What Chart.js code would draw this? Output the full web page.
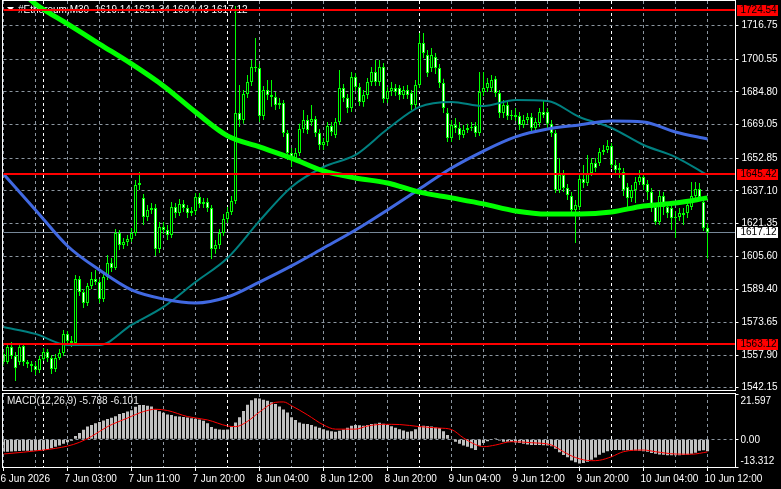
<!DOCTYPE html>
<html>
<head>
<meta charset="utf-8">
<script src="https://cdn.jsdelivr.net/npm/chart.js@4.4.1/dist/chart.umd.min.js"></script>
<style>
  html, body { margin: 0; padding: 0; background: #000; }
  #wrap { position: relative; width: 781px; height: 489px; background: #000; overflow: hidden; }
  #priceChart { position: absolute; left: 0; top: 0; }
  #macdChart { position: absolute; left: 0; top: 392px; }
</style>
</head>
<body>
<div id="wrap">
  <canvas id="priceChart" width="781" height="392"></canvas>
  <canvas id="macdChart" width="781" height="97"></canvas>
</div>
<script>
// #Ethereum M30 candles, bar 0 = 6 Jun 2026 19:00
const opens = [
  1558.4, 1554.6, 1561.8, 1557.4, 1554.6, 1562.3, 1554.6, 1553.6, 1552.6, 1550.7,
  1556.0, 1559.4, 1556.5, 1551.2, 1556.5, 1558.9, 1568.1, 1564.7, 1563.7, 1594.6,
  1588.3, 1583.0, 1591.2, 1594.6, 1593.1, 1584.9, 1595.5, 1602.3, 1599.9, 1616.8,
  1611.0, 1612.4, 1613.9, 1616.8, 1639.9, 1633.7, 1624.5, 1627.9, 1628.8, 1609.1,
  1619.7, 1618.2, 1615.8, 1629.3, 1626.4, 1630.8, 1628.8, 1626.4, 1627.4, 1634.1,
  1630.8, 1631.7, 1628.8, 1609.1, 1611.0, 1616.8, 1623.5, 1626.9, 1632.2, 1674.7,
  1671.3, 1683.8, 1689.6, 1696.8, 1696.4, 1673.2, 1685.7, 1683.3, 1682.4, 1678.5,
  1679.5, 1665.0, 1655.4, 1652.9, 1655.4, 1666.9, 1671.3, 1670.3, 1671.8, 1665.0,
  1659.2, 1660.7, 1668.4, 1664.0, 1670.3, 1686.7, 1681.9, 1677.1, 1692.0, 1687.2,
  1680.0, 1683.3, 1689.6, 1694.4, 1689.6, 1696.8, 1681.4, 1685.3, 1686.7, 1686.7,
  1683.3, 1685.7, 1684.3, 1678.5, 1688.2, 1708.4, 1702.6, 1696.4, 1701.7, 1696.4,
  1689.1, 1674.7, 1662.6, 1668.9, 1667.4, 1664.0, 1666.4, 1667.4, 1668.4, 1665.0,
  1684.8, 1686.7, 1686.7, 1691.1, 1684.3, 1674.7, 1678.5, 1673.2, 1673.7, 1673.2,
  1668.9, 1671.3, 1672.7, 1667.4, 1669.8, 1675.1, 1675.1, 1669.4, 1665.0, 1637.5,
  1644.7, 1638.5, 1634.6, 1627.9, 1629.3, 1642.8, 1640.9, 1645.7, 1650.5, 1650.5,
  1655.8, 1656.8, 1658.7, 1649.6, 1647.2, 1646.2, 1639.0, 1633.7, 1637.5, 1641.4,
  1643.8, 1640.4, 1636.5, 1629.3, 1622.1, 1634.6, 1629.3, 1628.8, 1624.0, 1624.5,
  1626.4, 1626.4, 1629.3, 1634.6, 1638.0, 1631.7, 1619.14
];
const highs = [
  1560.3, 1563.7, 1564.2, 1559.4, 1563.2, 1563.7, 1555.5, 1555.0, 1554.6, 1557.4,
  1561.3, 1560.8, 1557.9, 1558.4, 1560.8, 1570.0, 1569.5, 1567.1, 1596.5, 1596.0,
  1589.8, 1592.6, 1598.0, 1598.9, 1594.6, 1597.5, 1606.2, 1604.7, 1618.7, 1618.2,
  1614.4, 1615.8, 1619.2, 1642.3, 1646.2, 1635.6, 1630.3, 1631.2, 1630.8, 1622.1,
  1622.1, 1620.6, 1631.7, 1631.2, 1633.2, 1632.7, 1630.3, 1629.3, 1636.1, 1636.1,
  1633.7, 1633.7, 1630.3, 1613.4, 1618.7, 1625.9, 1629.3, 1634.6, 1726.3, 1688.2,
  1685.7, 1693.0, 1700.2, 1710.8, 1698.3, 1687.7, 1690.6, 1690.6, 1684.8, 1681.9,
  1680.9, 1666.4, 1657.8, 1657.8, 1669.4, 1676.1, 1673.7, 1678.5, 1673.2, 1666.9,
  1662.6, 1670.3, 1670.3, 1672.2, 1695.4, 1688.6, 1683.8, 1694.4, 1693.9, 1689.1,
  1685.7, 1691.5, 1696.8, 1700.2, 1700.2, 1698.8, 1687.2, 1689.6, 1688.6, 1688.2,
  1687.7, 1688.2, 1685.7, 1690.6, 1713.2, 1713.2, 1705.0, 1706.0, 1703.6, 1698.3,
  1691.1, 1677.1, 1671.3, 1672.2, 1670.3, 1668.9, 1669.4, 1670.3, 1670.3, 1694.4,
  1694.4, 1691.5, 1693.0, 1692.5, 1685.7, 1680.9, 1680.0, 1676.1, 1677.1, 1675.1,
  1673.7, 1674.7, 1674.7, 1672.2, 1677.1, 1680.9, 1677.1, 1671.3, 1666.4, 1652.9,
  1647.2, 1640.4, 1636.5, 1632.7, 1644.7, 1649.6, 1654.4, 1652.9, 1652.9, 1657.8,
  1659.2, 1661.6, 1660.2, 1652.0, 1650.5, 1648.1, 1640.9, 1639.9, 1643.8, 1647.2,
  1645.7, 1642.3, 1638.5, 1631.2, 1637.0, 1636.5, 1631.2, 1630.8, 1627.4, 1628.8,
  1628.8, 1632.7, 1641.4, 1641.4, 1640.9, 1633.7, 1621.34
];
const lows = [
  1552.6, 1553.6, 1556.0, 1545.4, 1553.1, 1552.6, 1551.6, 1549.7, 1548.3, 1549.2,
  1555.0, 1554.6, 1548.8, 1549.7, 1555.5, 1557.4, 1563.2, 1561.8, 1562.8, 1586.4,
  1580.6, 1581.6, 1589.8, 1591.7, 1583.0, 1583.5, 1594.1, 1598.0, 1598.9, 1608.6,
  1609.1, 1610.5, 1612.4, 1615.3, 1637.5, 1620.6, 1622.6, 1625.9, 1605.7, 1607.1,
  1616.3, 1613.4, 1614.4, 1624.0, 1625.0, 1626.9, 1624.0, 1625.0, 1625.4, 1628.8,
  1628.8, 1626.9, 1604.2, 1606.7, 1609.1, 1615.3, 1621.6, 1625.4, 1630.8, 1667.9,
  1669.4, 1681.9, 1687.7, 1694.4, 1670.3, 1671.3, 1680.9, 1677.6, 1676.1, 1676.6,
  1663.1, 1652.0, 1648.6, 1651.0, 1653.9, 1665.0, 1664.5, 1668.4, 1663.1, 1656.8,
  1656.8, 1658.7, 1663.6, 1662.6, 1668.9, 1680.0, 1674.7, 1675.1, 1685.3, 1678.0,
  1677.6, 1681.4, 1687.7, 1687.7, 1687.7, 1679.5, 1679.5, 1682.9, 1682.9, 1680.9,
  1681.4, 1681.4, 1676.1, 1677.1, 1686.7, 1701.2, 1692.0, 1694.4, 1693.5, 1686.7,
  1674.7, 1660.7, 1660.7, 1665.0, 1661.6, 1662.6, 1665.0, 1666.0, 1663.1, 1663.6,
  1682.9, 1684.8, 1684.8, 1682.4, 1672.2, 1672.2, 1671.3, 1671.3, 1670.8, 1666.4,
  1667.4, 1669.4, 1665.5, 1666.0, 1667.9, 1672.2, 1667.4, 1663.1, 1636.1, 1636.1,
  1636.5, 1632.7, 1625.4, 1611.9, 1627.9, 1638.5, 1639.4, 1644.3, 1646.2, 1649.1,
  1654.4, 1655.4, 1648.1, 1644.7, 1643.3, 1634.6, 1627.9, 1631.7, 1631.2, 1639.9,
  1637.5, 1632.7, 1626.9, 1620.6, 1620.6, 1625.4, 1624.0, 1618.2, 1614.4, 1622.6,
  1620.6, 1624.0, 1627.9, 1632.7, 1632.7, 1617.7, 1604.43
];
const closes = [
  1554.6, 1561.8, 1557.4, 1551.6, 1561.8, 1554.6, 1553.6, 1552.6, 1550.7, 1556.0,
  1559.4, 1556.5, 1551.2, 1556.5, 1558.9, 1568.1, 1564.7, 1563.7, 1594.6, 1588.3,
  1583.0, 1591.2, 1594.6, 1593.1, 1584.9, 1595.5, 1602.3, 1599.9, 1616.8, 1611.0,
  1612.4, 1613.9, 1616.8, 1639.9, 1640.9, 1624.5, 1627.9, 1628.8, 1609.1, 1619.7,
  1618.2, 1615.8, 1629.3, 1626.4, 1630.8, 1628.8, 1626.4, 1627.4, 1634.1, 1630.8,
  1631.7, 1628.8, 1609.1, 1611.0, 1616.8, 1623.5, 1626.9, 1632.2, 1674.7, 1671.3,
  1683.8, 1689.6, 1696.8, 1696.4, 1673.2, 1685.7, 1683.3, 1682.4, 1678.5, 1679.5,
  1665.0, 1655.4, 1652.9, 1655.4, 1666.9, 1671.3, 1666.4, 1671.8, 1665.0, 1659.2,
  1660.7, 1668.4, 1665.5, 1670.3, 1686.7, 1681.9, 1677.1, 1692.0, 1687.2, 1680.0,
  1683.3, 1689.6, 1694.4, 1689.6, 1696.8, 1681.4, 1685.3, 1686.7, 1684.8, 1683.3,
  1685.7, 1683.3, 1678.5, 1688.2, 1708.4, 1703.6, 1693.9, 1702.6, 1696.4, 1689.1,
  1677.1, 1662.6, 1668.9, 1667.4, 1664.0, 1666.4, 1667.4, 1667.9, 1665.0, 1684.8,
  1686.7, 1689.1, 1690.6, 1684.3, 1674.7, 1678.5, 1673.2, 1673.7, 1672.7, 1668.9,
  1671.3, 1672.7, 1667.4, 1670.3, 1675.1, 1673.7, 1669.4, 1665.0, 1637.5, 1644.7,
  1638.5, 1635.1, 1627.9, 1630.3, 1642.8, 1640.9, 1645.7, 1650.5, 1648.1, 1655.8,
  1656.8, 1658.7, 1649.6, 1647.2, 1648.1, 1637.5, 1633.7, 1637.5, 1641.4, 1643.8,
  1639.9, 1636.5, 1628.8, 1622.1, 1634.6, 1629.3, 1626.4, 1624.0, 1624.5, 1626.4,
  1625.4, 1630.3, 1634.6, 1638.0, 1634.1, 1619.2, 1617.12
];

// moving averages, read every 8 bars
const maSlowBars = [6, 8, 16, 24, 32, 40, 48, 56, 64, 72, 80, 88, 96, 104, 112, 120, 128, 136, 144, 152, 160, 168, 176];
const maSlow = [1730.6, 1727.2, 1717.6, 1707.9, 1698.3, 1687.7, 1675.1, 1663.6, 1658.3, 1652.9, 1646.7, 1643.3,
  1640.9, 1636.5, 1633.7, 1630.8, 1627.4, 1625.9, 1625.9, 1626.9, 1629.8, 1631.2, 1633.7];
const maBars = [0, 8, 16, 24, 32, 40, 48, 56, 64, 72, 80, 88, 96, 104, 112, 120, 128, 136, 144, 152, 160, 168, 176];
const maMid = [1645.2, 1627.9, 1610.5, 1598.9, 1589.3, 1584.9, 1583.0, 1585.9, 1593.1, 1600.9, 1609.5, 1618.2,
  1627.9, 1638.0, 1648.1, 1656.3, 1663.1, 1666.9, 1668.9, 1670.8, 1670.3, 1665.5, 1662.1];
const maFast = [1571.4, 1568.1, 1562.8, 1562.8, 1572.4, 1581.1, 1593.1, 1604.7, 1622.6, 1639.0, 1648.6, 1654.4,
  1666.9, 1677.6, 1680.0, 1678.0, 1680.9, 1680.4, 1672.7, 1667.4, 1659.2, 1653.4, 1644.7];

// MACD(12,26,9)
const macdHist = [
  -6.0, -6.0, -5.9, -5.8, -5.7, -5.6, -5.5, -5.5, -5.4, -5.3,
  -5.2, -4.8, -4.3, -3.6, -3.0, -2.2, -1.5, -0.8, 1.5, 3.0,
  4.5, 6.0, 6.8, 7.6, 8.2, 8.9, 9.6, 10.2, 11.0, 12.0,
  12.5, 13.2, 13.8, 15.5, 16.3, 16.3, 16.0, 15.6, 14.2, 13.4,
  12.6, 11.8, 11.5, 11.0, 10.8, 10.6, 10.3, 10.0, 9.8, 9.4,
  8.8, 7.6, 5.8, 5.0, 4.6, 4.5, 4.6, 6.0, 8.0, 10.5,
  13.5, 16.4, 18.6, 19.6, 19.4, 18.9, 18.4, 17.6, 16.8, 15.6,
  14.2, 12.8, 10.5, 9.2, 8.0, 7.4, 7.2, 6.8, 6.0, 5.4,
  4.8, 4.2, 3.8, 3.6, 4.0, 4.6, 5.4, 6.4, 6.8, 6.6,
  6.4, 6.8, 7.2, 7.4, 7.8, 7.4, 6.8, 6.2, 5.4, 4.8,
  4.2, 3.6, 3.8, 4.8, 6.0, 6.4, 6.3, 6.0, 5.6, 5.3,
  3.8, 2.0, -0.2, -1.2, -2.2, -3.0, -3.6, -4.4, -5.2, -3.2,
  -1.8, -1.0, -0.2, 0.4, -0.6, -1.2, -1.2, -1.4, -1.6, -1.8,
  -2.2, -2.6, -2.8, -2.8, -2.8, -2.9, -3.0, -3.4, -4.6, -6.2,
  -7.6, -8.6, -10.2, -11.0, -11.6, -11.4, -10.8, -9.8, -8.8, -7.4,
  -6.5, -5.8, -5.2, -5.2, -5.2, -5.3, -5.3, -5.4, -5.4, -5.6,
  -5.8, -6.0, -6.6, -7.0, -7.3, -7.5, -7.7, -7.7, -7.7, -7.7,
  -7.6, -7.4, -7.0, -6.5, -5.6, -5.3, -5.788
];
const signalBars = [0, 10, 16, 19, 22, 26, 31, 35, 38, 41, 46, 51, 56, 58, 61, 64, 68, 70, 72, 76, 80, 83, 88,
  91, 95, 99, 104, 109, 112, 115, 118, 120, 123, 127, 132, 137, 140, 143, 147, 149, 152, 155, 160, 163, 168, 172, 176];
const signalVals = [-7.1, -5.2, -3.3, -1.5, 1.3, 6.0, 10.1, 13.2, 14.3, 13.7, 10.8, 9.2, 6.3, 6.0, 8.5, 13.0, 17.6, 17.8, 16.0,
  11.6, 6.8, 4.8, 4.8, 6.3, 7.1, 7.0, 6.0, 5.3, 4.6, 0.6, -2.6, -3.6, -2.8, -1.2, -1.7, -2.8, -6.0, -8.8, -10.3,
  -10.1, -8.4, -6.0, -5.2, -6.0, -7.1, -7.2, -6.101];

// axes and labels
const priceTicks = [1542.15, 1557.90, 1573.65, 1589.40, 1605.60, 1621.35, 1637.10, 1652.85, 1669.05, 1684.80, 1700.55, 1716.75];
const levels = [1724.54, 1645.42, 1563.12];
const bidPrice = 1617.12;
const macdTicks = [-13.312, 0, 21.597];
const timeLabels = ['6 Jun 2026', '7 Jun 03:00', '7 Jun 11:00', '7 Jun 20:00', '8 Jun 04:00', '8 Jun 12:00',
  '8 Jun 20:00', '9 Jun 04:00', '9 Jun 12:00', '9 Jun 20:00', '10 Jun 04:00', '10 Jun 12:00'];
const daySeparators = [10, 56, 104, 152];
const titleText = '#Ethereum,M30  1619.14 1621.34 1604.43 1617.12';
const macdTitle = 'MACD(12,26,9) -5.788 -6.101';

const FONT = '"Liberation Sans", Arial, sans-serif';
const GRID = '#8c96a0';
const LIME = '#00ff00';
const LAST_SLOT = 183;

function buildTimeTicks(scale) {
  const t = [];
  for (let v = 0; v <= 176; v += 8) t.push(v);
  daySeparators.forEach(v => { if (!t.includes(v)) t.push(v); });
  t.sort((a, b) => a - b);
  scale.ticks = t.map(v => ({ value: v }));
}
function gridColor(c) {
  if (!c.tick) return GRID;
  return daySeparators.includes(c.tick.value) ? '#ffffff' : GRID;
}
function drawFrame(chart) {
  const { ctx, chartArea: a } = chart;
  ctx.save();
  ctx.strokeStyle = '#ffffff';
  ctx.lineWidth = 1;
  ctx.strokeRect(a.left - 1, a.top - 0.5, a.right - a.left + 1, a.bottom - a.top + 1);
  ctx.restore();
}

const bars = opens.map((_, i) => i);

const priceOverlay = {
  id: 'priceOverlay',
  beforeDatasetsDraw(chart) {
    const { ctx, chartArea: a, scales: { y } } = chart;
    ctx.save();
    // bid line
    const yb = Math.round(y.getPixelForValue(bidPrice)) + 0.5;
    ctx.strokeStyle = '#778899';
    ctx.lineWidth = 1;
    ctx.beginPath();
    ctx.moveTo(a.left, yb);
    ctx.lineTo(a.right, yb);
    ctx.stroke();
    // title
    ctx.fillStyle = '#ffffff';
    ctx.beginPath();
    ctx.moveTo(7, 7); ctx.lineTo(14, 7); ctx.lineTo(10.5, 11);
    ctx.closePath();
    ctx.fill();
    ctx.font = '10px ' + FONT;
    ctx.textBaseline = 'middle';
    ctx.fillText(titleText, 18, 10);
    ctx.restore();
  },
  afterDatasetsDraw(chart) {
    const { ctx, chartArea: a, scales: { y } } = chart;
    ctx.save();
    ctx.strokeStyle = '#ff0000';
    ctx.lineWidth = 2;
    levels.forEach(v => {
      const py = Math.round(y.getPixelForValue(v));
      ctx.beginPath();
      ctx.moveTo(a.left, py);
      ctx.lineTo(a.right, py);
      ctx.stroke();
    });
    ctx.restore();
  },
  afterDraw(chart) {
    const { ctx, chartArea: a, scales: { y } } = chart;
    drawFrame(chart);
    ctx.save();
    ctx.font = '10px ' + FONT;
    ctx.textBaseline = 'middle';
    const box = (v, bg) => {
      const py = Math.max(Math.round(y.getPixelForValue(v)), 7);
      ctx.fillStyle = bg;
      ctx.fillRect(a.right + 1.5, py - 5, 41, 11);
      ctx.fillStyle = '#000000';
      ctx.fillText(v.toFixed(2), a.right + 5, py + 0.5);
    };
    levels.forEach(v => box(v, '#ff0000'));
    box(bidPrice, '#ffffff');
    ctx.restore();
  }
};

new Chart(document.getElementById('priceChart'), {
  type: 'bar',
  data: {
    datasets: [
      {
        type: 'line', label: 'MA slow', order: 0,
        data: maSlowBars.map((b, k) => ({ x: b, y: maSlow[k] })),
        borderColor: LIME, borderWidth: 5, pointRadius: 0, cubicInterpolationMode: 'monotone'
      },
      {
        type: 'line', label: 'MA mid', order: 1,
        data: maBars.map((b, k) => ({ x: b, y: maMid[k] })),
        borderColor: '#4169e1', borderWidth: 3, pointRadius: 0, cubicInterpolationMode: 'monotone'
      },
      {
        type: 'line', label: 'MA fast', order: 2,
        data: maBars.map((b, k) => ({ x: b, y: maFast[k] })),
        borderColor: '#008080', borderWidth: 2, pointRadius: 0, cubicInterpolationMode: 'monotone'
      },
      {
        label: 'body', order: 3, grouped: false,
        data: bars.map(i => ({ x: i, y: [opens[i], closes[i]] })),
        backgroundColor: c => closes[c.dataIndex] >= opens[c.dataIndex] ? '#000000' : '#ffffff',
        borderColor: LIME, borderWidth: 1, borderSkipped: false,
        barThickness: 3, inflateAmount: 0
      },
      {
        label: 'wick', order: 4, grouped: false,
        data: bars.map(i => ({ x: i, y: [lows[i], highs[i]] })),
        backgroundColor: LIME, borderWidth: 0, barThickness: 1, inflateAmount: 0
      }
    ]
  },
  options: {
    responsive: false,
    devicePixelRatio: 1,
    animation: false,
    events: [],
    layout: { padding: { left: 3.5, top: 1, right: 0, bottom: 2 } },
    plugins: { legend: { display: false }, tooltip: { enabled: false } },
    scales: {
      x: {
        type: 'linear', min: 0, max: LAST_SLOT, offset: false,
        afterBuildTicks: buildTimeTicks,
        afterFit: s => { s.height = 0; s.paddingLeft = 0; s.paddingRight = 0; },
        ticks: { display: false },
        grid: { offset: false, color: gridColor, drawTicks: false, lineWidth: 1 },
        border: { display: false, dash: [3, 3] }
      },
      y: {
        position: 'right', min: 1541.04, max: 1728.66,
        afterBuildTicks: s => { s.ticks = priceTicks.map(v => ({ value: v })); },
        afterFit: s => { s.width = 45.5; s.paddingTop = 0; s.paddingBottom = 0; },
        ticks: {
          color: '#ffffff', font: { family: FONT, size: 10 }, padding: 3, autoSkip: false,
          callback: v => Number(v).toFixed(2)
        },
        grid: { color: GRID, tickColor: '#ffffff', tickLength: 3 },
        border: { display: false, dash: [3, 3] }
      }
    }
  },
  plugins: [priceOverlay]
});

const macdOverlay = {
  id: 'macdOverlay',
  afterDraw(chart) {
    const { ctx, chartArea: a, scales: { y } } = chart;
    drawFrame(chart);
    ctx.save();
    ctx.font = '10px ' + FONT;
    ctx.textBaseline = 'middle';
    ctx.fillStyle = '#e8e8e8';
    ctx.fillText(macdTitle, 7, 9);
    ctx.fillStyle = '#ffffff';
    macdTicks.forEach(v => {
      let py = y.getPixelForValue(v);
      if (v === macdTicks[macdTicks.length - 1]) py += 7;
      else if (v === macdTicks[0]) py -= 6;
      else py += 1;
      ctx.fillText(v === 0 ? '0.00' : v.toFixed(3), a.right + 5, py);
    });
    ctx.restore();
  }
};

new Chart(document.getElementById('macdChart'), {
  type: 'bar',
  data: {
    datasets: [
      {
        type: 'line', label: 'Signal', order: 0,
        data: signalBars.map((b, k) => ({ x: b, y: signalVals[k] })),
        borderColor: '#ff0000', borderWidth: 1, pointRadius: 0, cubicInterpolationMode: 'monotone'
      },
      {
        label: 'MACD', order: 1,
        data: bars.map(i => ({ x: i, y: macdHist[i] })),
        backgroundColor: '#c0c0c0', borderWidth: 0, barThickness: 3, inflateAmount: 0
      }
    ]
  },
  options: {
    responsive: false,
    devicePixelRatio: 1,
    animation: false,
    events: [],
    layout: { padding: { left: 3.5, top: 2, right: 0, bottom: 0 } },
    plugins: { legend: { display: false }, tooltip: { enabled: false } },
    scales: {
      x: {
        type: 'linear', min: 0, max: LAST_SLOT, offset: false,
        afterBuildTicks: buildTimeTicks,
        afterFit: s => { s.height = 22; s.paddingLeft = 0; s.paddingRight = 0; },
        ticks: {
          color: '#ffffff', font: { family: FONT, size: 10 }, padding: 2,
          autoSkip: false, maxRotation: 0, minRotation: 0, align: 'start', labelOffset: -3,
          callback: v => (v % 16 === 0 ? timeLabels[v / 16] : '')
        },
        grid: {
          offset: false, color: gridColor, lineWidth: 1, tickLength: 4,
          tickColor: c => (c.tick && c.tick.value % 16 === 0 ? '#ffffff' : 'rgba(0,0,0,0)')
        },
        border: { display: false, dash: [3, 3] }
      },
      y: {
        position: 'right', min: macdTicks[0], max: macdTicks[2],
        afterBuildTicks: s => { s.ticks = macdTicks.map(v => ({ value: v })); },
        afterFit: s => { s.width = 45.5; s.paddingTop = 0; s.paddingBottom = 0; },
        ticks: { display: false },
        grid: {
          color: c => (c.tick && c.tick.value === 0 ? GRID : 'rgba(0,0,0,0)'),
          tickColor: '#ffffff', tickLength: 3
        },
        border: { display: false, dash: [3, 3] }
      }
    }
  },
  plugins: [macdOverlay]
});
</script>
</body>
</html>
